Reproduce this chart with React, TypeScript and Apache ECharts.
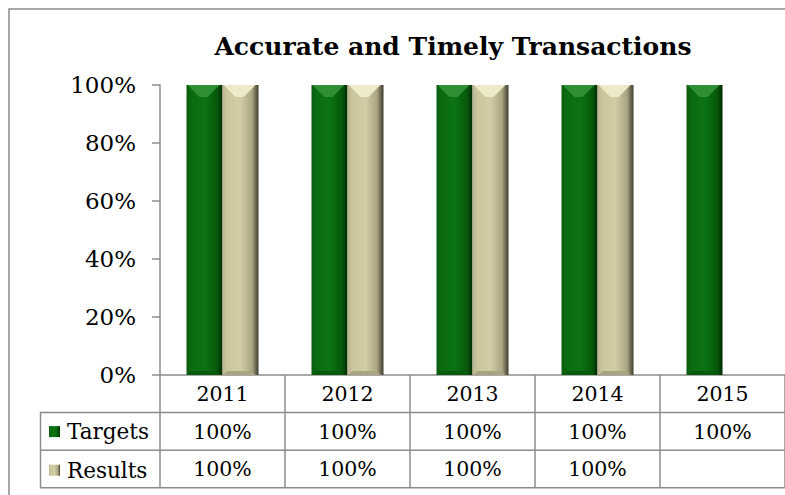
import React, { useEffect, useRef } from "react";
import * as echarts from "echarts";

const categories = ["2011", "2012", "2013", "2014", "2015"];
const targets: (number | null)[] = [1, 1, 1, 1, 1];
const results: (number | null)[] = [1, 1, 1, 1, null];
const yTicks = [0, 0.2, 0.4, 0.6, 0.8, 1];
const title = "Accurate and Timely Transactions";
const seriesNames = ["Targets", "Results"];

const FONT = "DejaVu Serif";
const GRID_LEFT = 160;
const GRID_TOP = 85;
const GRID_H = 290;
const GRID_W = 632;
const ROW_H = 37.6;
const BAR_W = 36;
const LINE = "#8c8c8c";

const pct = (v: number | null) => (v == null ? "" : `${Math.round(v * 100)}%`);

const greenGrad = new echarts.graphic.LinearGradient(0, 0, 1, 0, [
  { offset: 0, color: "#0b5a0e" },
  { offset: 0.12, color: "#0a6a10" },
  { offset: 0.5, color: "#0b7414" },
  { offset: 0.85, color: "#06580a" },
  { offset: 1, color: "#012a03" },
]);
const tanGrad = new echarts.graphic.LinearGradient(0, 0, 1, 0, [
  { offset: 0, color: "#b9b38e" },
  { offset: 0.12, color: "#cbc59e" },
  { offset: 0.5, color: "#d3cda6" },
  { offset: 0.82, color: "#aaa482" },
  { offset: 1, color: "#3e3b2c" },
]);

function bevel(side: number, topColor: string, bottomColor: string) {
  return (params: any, api: any) => {
    const v = api.value(1);
    if (v == null || isNaN(v)) return null;
    const top = api.coord([api.value(0), v]);
    const base = api.coord([api.value(0), 0]);
    const x0 = side < 0 ? top[0] - BAR_W : top[0];
    const x1 = x0 + BAR_W;
    const b = 12;
    return {
      type: "group",
      children: [
        {
          type: "polygon",
          shape: {
            points: [
              [x0 + 1, top[1]],
              [x1 - 3, top[1]],
              [x1 - 3 - b, top[1] + b],
              [x0 + 1 + b, top[1] + b],
            ],
          },
          style: { fill: topColor },
        },
        {
          type: "polygon",
          shape: {
            points: [
              [x0 + 1, base[1]],
              [x1 - 3, base[1]],
              [x1 - 3 - 4, base[1] - 4],
              [x0 + 1 + 4, base[1] - 4],
            ],
          },
          style: { fill: bottomColor },
        },
      ],
    };
  };
}

export default function App() {
  const ref = useRef<HTMLDivElement>(null);
  useEffect(() => {
    if (!ref.current) return;
    const chart = echarts.init(ref.current, undefined, { renderer: "svg" });
    const baseText = { fontFamily: FONT, color: "#000" };
    const tableY = GRID_TOP + GRID_H;
    chart.setOption({
      animation: false,
      backgroundColor: "#fff",
      title: {
        text: title,
        left: 448,
        textAlign: "center",
        top: 29,
        textStyle: { ...baseText, fontSize: 25, fontWeight: "bold" },
      },
      legend: {
        data: seriesNames,
        orient: "vertical",
        left: 49,
        top: tableY + ROW_H + 8,
        padding: 0,
        itemWidth: 11,
        itemHeight: 11,
        itemGap: ROW_H - 21,
        textStyle: { ...baseText, fontSize: 21.5, lineHeight: 21, padding: [0, 0, 0, 2] },
        icon: "rect",
        selectedMode: false,
      },
      grid: { left: GRID_LEFT, top: GRID_TOP, width: GRID_W, height: GRID_H, containLabel: false },
      xAxis: [
        {
          type: "category",
          data: categories,
          position: "bottom",
          axisLine: { lineStyle: { color: LINE, width: 1.5 } },
          axisTick: { show: true, length: ROW_H * 3, interval: 0, lineStyle: { color: LINE, width: 1.5 } },
          axisLabel: { ...baseText, fontSize: 20.5, lineHeight: 20, margin: 9, interval: 0 },
        },
        {
          type: "category",
          data: categories,
          position: "bottom",
          offset: ROW_H,
          axisLine: { show: false },
          axisTick: { show: false },
          axisLabel: {
            ...baseText,
            fontSize: 20.5,
            lineHeight: 20,
            margin: 9,
            interval: 0,
            formatter: (_: string, i: number) => pct(targets[i]),
          },
        },
        {
          type: "category",
          data: categories,
          position: "bottom",
          offset: ROW_H * 2,
          axisLine: { show: false },
          axisTick: { show: false },
          axisLabel: {
            ...baseText,
            fontSize: 20.5,
            lineHeight: 20,
            margin: 9,
            interval: 0,
            formatter: (_: string, i: number) => pct(results[i]),
          },
        },
      ],
      yAxis: {
        type: "value",
        min: yTicks[0],
        max: yTicks[yTicks.length - 1],
        interval: yTicks[1] - yTicks[0],
        axisLine: { show: true, lineStyle: { color: LINE, width: 1.5 } },
        axisTick: { show: true, length: 8, lineStyle: { color: LINE, width: 1.5 } },
        splitLine: { show: false },
        axisLabel: { ...baseText, fontSize: 23, margin: 24, formatter: (v: number) => pct(v) },
      },
      series: [
        {
          name: seriesNames[0],
          type: "bar",
          data: targets,
          barWidth: BAR_W,
          barGap: "0%",
          itemStyle: { color: greenGrad },
        },
        {
          name: seriesNames[1],
          type: "bar",
          data: results,
          barWidth: BAR_W,
          barGap: "0%",
          itemStyle: { color: tanGrad },
        },
        {
          type: "custom",
          data: targets.map((v, i) => [i, v]),
          encode: { x: 0, y: 1 },
          renderItem: bevel(-1, "#2f8f34", "#0a5a0d"),
          silent: true,
          z: 3,
        },
        {
          type: "custom",
          data: results.map((v, i) => [i, v]),
          encode: { x: 0, y: 1 },
          renderItem: bevel(1, "#eee9c6", "#a9a381"),
          silent: true,
          z: 3,
        },
      ],
      graphic: [
        {
          type: "rect",
          shape: { x: 9, y: 9, width: 820, height: 520 },
          style: { fill: "none", stroke: LINE, lineWidth: 1.5 },
          silent: true,
        },
        ...[1, 2, 3].map((k) => ({
          type: "line",
          shape: { x1: 40, y1: tableY + ROW_H * k, x2: 800, y2: tableY + ROW_H * k },
          style: { stroke: LINE, lineWidth: 1.5 },
          silent: true,
        })),
        {
          type: "line",
          shape: { x1: 40.5, y1: tableY + ROW_H, x2: 40.5, y2: tableY + ROW_H * 3 },
          style: { stroke: LINE, lineWidth: 1.5 },
          silent: true,
        },
      ],
    });
    return () => chart.dispose();
  }, []);
  return <div ref={ref} style={{ position: "fixed", left: 0, top: 0, width: 785, height: 495 }} />;
}
